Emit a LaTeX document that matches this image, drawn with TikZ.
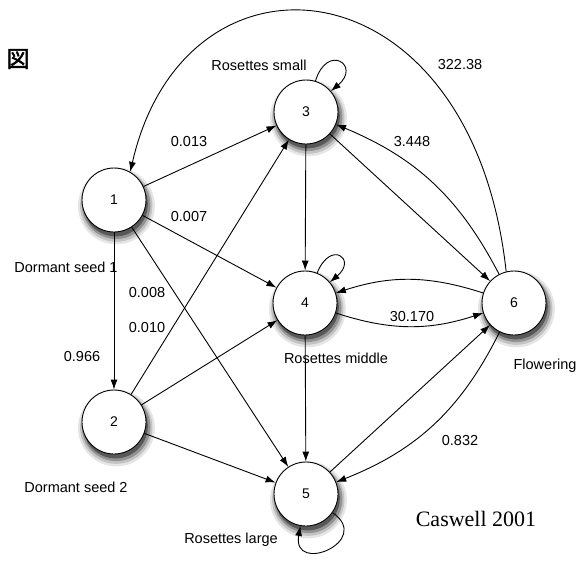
\documentclass[tikz,border=0pt]{standalone}
\usepackage{fontspec}
\setmainfont{Liberation Serif}
\setsansfont{Liberation Sans}
\newfontfamily\cjk[FakeBold=2]{Noto Sans CJK JP}
\usetikzlibrary{arrows.meta}
\usetikzlibrary{shadows}

\begin{document}
\begin{tikzpicture}[x=1pt, y=1pt, >={Latex[length=10pt,width=7pt]},
    soft shadow/.style={
      drop shadow={shadow xshift=2pt, shadow yshift=-5pt, shadow scale=1.2, opacity=0.1, fill=black},
      drop shadow={shadow xshift=2pt, shadow yshift=-5pt, shadow scale=1.13, opacity=0.15, fill=black},
      drop shadow={shadow xshift=2pt, shadow yshift=-4.5pt, shadow scale=1.07, opacity=0.25, fill=black},
      drop shadow={shadow xshift=1.5pt, shadow yshift=-4pt, shadow scale=1.01, opacity=0.4, fill=black}},
    stage/.style={circle, draw, line width=0.9pt, fill=white, minimum size=64pt, inner sep=0pt,
      soft shadow, font=\sffamily\fontsize{14}{16}\selectfont},
    lbl/.style={font=\sffamily\fontsize{14.5}{16}\selectfont, inner sep=0pt},
    link/.style={->, line width=0.9pt}]
      \useasboundingbox (0,0) rectangle (583,-562);

      % stages
      \node[stage] (n1) at (114,-200) {1};
      \node[stage] (n2) at (114,-422) {2};
      \node[stage] (n3) at (306,-112) {3};
      \node[stage] (n4) at (305,-303) {4};
      \node[stage] (n5) at (306,-494) {5};
      \node[stage] (n6) at (514,-303) {6};

      \node[lbl] (nm1) at (66,-267) {Dormant seed 1};
      \node[lbl] (nm2) at (76,-487) {Dormant seed 2};
      \node[lbl] (nm3) at (259,-65) {Rosettes small};
      \node[lbl] (nm4) at (336,-358) {Rosettes middle};
      \node[lbl] (nm5) at (231,-540) {Rosettes large};
      \node[lbl] (nm6) at (545,-366) {Flowering};

      \draw[link] (n1) -- (n3);
      \draw[link] (n1) -- (n4);
      \draw[link] (n1) -- (n5);
      \draw[link] (n1) -- (n2);
      \draw[link] (n2) -- (n3);
      \draw[link] (n2) -- (n4);
      \draw[link] (n2) -- (n5);
      \draw[link] (n3) -- (n4);
      \draw[link] (n3) -- (n6);
      \draw[link] (n4) -- (n5);
      \draw[link] (n5) -- (n6);
      \draw[link] (n6) to[bend right=20] (n3);
      \draw[link] (n6) to[bend right=18] (n4);
      \draw[link] (n4) to[bend right=18] (n6);
      \draw[link] (n6) to[bend left=21] (n5);
      \draw[link] (n6.104) .. controls (472,42) and (185,68) .. (n1.60);

      % loops
      \draw[link] (n3) to[out=73,in=40,min distance=40pt] (n3);
      \draw[link] (n4) to[out=68,in=40,min distance=36pt] (n4);
      \draw[link] (n5) to[out=-35,in=-100,min distance=50pt] (n5);

      \node[lbl] (t13) at (189,-142) {0.013};
      \node[lbl] (t14) at (189,-217) {0.007};
      \node[lbl] (t15) at (147,-293) {0.008};
      \node[lbl] (t12) at (82,-357) {0.966};
      \node[lbl] (t23) at (147,-328) {0.010};
      \node[lbl] (t63) at (412,-142) {3.448};
      \node[lbl] (t61) at (460,-65) {322.38};
      \node[lbl] (t46) at (412,-317) {30.170};
      \node[lbl] (t65) at (460,-441) {0.832};

      \node[font=\cjk\fontsize{23}{24}\selectfont] (fig) at (18,-59) {図};
      \node[font=\rmfamily\fontsize{22}{24}\selectfont] (src) at (476,-519) {Caswell 2001};
    \end{tikzpicture}
\end{document}
